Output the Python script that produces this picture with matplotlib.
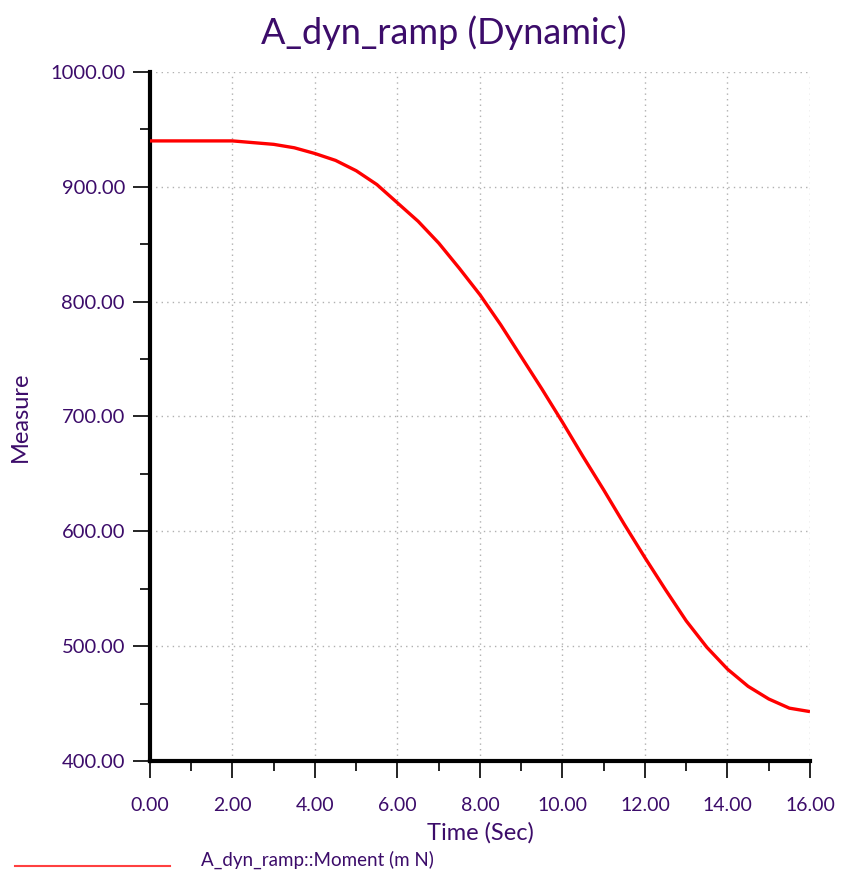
import numpy as np
import matplotlib.pyplot as plt
import matplotlib.ticker as mticker
from matplotlib.lines import Line2D

TXT = '#3c0c6a'

plt.rcParams.update({
    'font.family': 'Lato',
    'figure.facecolor': 'white', 'axes.facecolor': 'white',
})

# data
time_s = [0, 1, 2, 3, 3.5, 4, 4.5, 5, 5.5, 6, 6.5, 7, 7.5, 8, 8.5, 9, 9.5,
          10, 10.5, 11, 11.5, 12, 12.5, 13, 13.5, 14, 14.5, 15, 15.5, 16]
moment = [940, 940, 940, 937, 934, 929, 923, 914, 902, 886, 870, 851, 829,
          806, 780, 752, 724, 695, 665, 636, 606, 577, 549, 522, 499, 480,
          465, 454, 446, 443]

fig = plt.figure(figsize=(8.65, 8.76), dpi=100)
ax = fig.add_axes([0.1734, 0.1313, 0.7630, 0.7865])

ax.plot(time_s, moment, color='#ff0000', lw=2.4, solid_capstyle='butt', zorder=3)

ax.set_xlim(0, 16)
ax.set_ylim(400, 1000)
ax.xaxis.set_major_locator(mticker.MultipleLocator(2))
ax.xaxis.set_minor_locator(mticker.MultipleLocator(1))
ax.yaxis.set_major_locator(mticker.MultipleLocator(100))
ax.yaxis.set_minor_locator(mticker.MultipleLocator(50))
ax.xaxis.set_major_formatter(mticker.FormatStrFormatter('%.2f'))
ax.yaxis.set_major_formatter(mticker.FormatStrFormatter('%.2f'))

ax.grid(True, which='major', color='#b0b0b0', ls=(0, (1, 3)), lw=1.0, zorder=1)
for s in ['top', 'right']:
    ax.spines[s].set_visible(False)
for s in ['left', 'bottom']:
    ax.spines[s].set_linewidth(3)
    ax.spines[s].set_color('black')

ax.tick_params(axis='x', which='major', direction='out', length=12, width=1.2,
               pad=14, labelsize=14, labelcolor=TXT)
ax.tick_params(axis='x', which='minor', direction='out', length=7, width=1.2)
ax.tick_params(axis='y', which='major', direction='out', length=12, width=1.2,
               pad=6, labelsize=14.5, labelcolor=TXT)
ax.tick_params(axis='y', which='minor', direction='out', length=7, width=1.2)

ax.set_xlabel('Time (Sec)', fontsize=17, color=TXT, labelpad=6)
ax.set_ylabel('Measure', fontsize=17, color=TXT, labelpad=14)
fig.text(0.513, 0.963, 'A_dyn_ramp (Dynamic)', ha='center', va='center',
         fontsize=26, color=TXT)

# legend line at bottom
fig.add_artist(Line2D([0.017, 0.197], [0.011, 0.011], color='#ff4040', lw=1.5))
fig.text(0.232, 0.018, 'A_dyn_ramp::Moment (m N)', ha='left', va='center',
         fontsize=13.5, color=TXT)

fig.savefig('out.png', dpi=100)
